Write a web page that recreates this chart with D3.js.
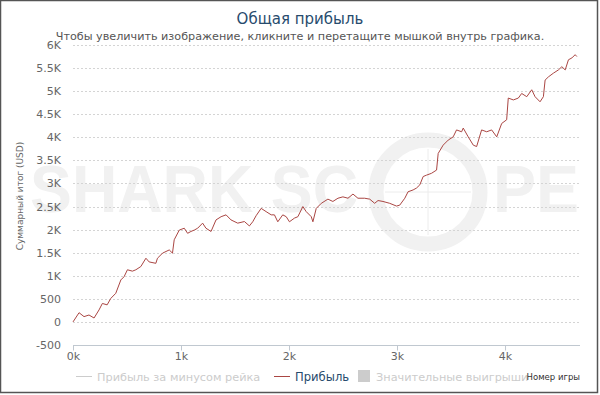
<!DOCTYPE html>
<html>
<head>
<meta charset="utf-8">
<script src="https://cdn.jsdelivr.net/npm/d3@7"></script>
<style>
  body { margin: 0; background: #fff; }
  svg { display: block; font-family: "DejaVu Sans", sans-serif; }
</style>
</head>
<body>
<script>
// game number -> cumulative profit (USD)
const games = [0, 56, 102, 148, 195, 241, 272, 316, 350, 396, 443, 473, 504, 550, 582, 628, 675, 705, 767, 782,
  829, 891, 921, 937, 984, 1030, 1061, 1092, 1123, 1154, 1200, 1231, 1278, 1324, 1371, 1417, 1463, 1525, 1587, 1633,
  1664, 1695, 1742, 1788, 1835, 1865, 1896, 1942, 1974, 2004, 2051, 2082, 2128, 2159, 2206, 2221, 2252, 2299, 2360, 2406,
  2453, 2499, 2546, 2592, 2638, 2700, 2747, 2793, 2824, 2870, 2932, 2995, 3025, 3072, 3102, 3149, 3180, 3211, 3242, 3273,
  3319, 3366, 3381, 3427, 3474, 3520, 3551, 3598, 3613, 3659, 3706, 3737, 3783, 3830, 3876, 3923, 3969, 4015, 4030, 4077,
  4123, 4154, 4201, 4247, 4278, 4324, 4355, 4371, 4402, 4448, 4494, 4526, 4557, 4587, 4619, 4649, 4665]
const profit = [0, 200, 115, 150, 85, 260, 400, 370, 510, 620, 910, 980, 1130, 1100, 1130, 1200, 1380, 1300, 1270, 1380,
  1490, 1560, 1490, 1780, 1990, 2030, 1920, 1960, 1990, 2030, 2140, 2030, 1960, 2210, 2280, 2320, 2210, 2140, 2175, 2080,
  2170, 2300, 2460, 2390, 2320, 2320, 2170, 2320, 2280, 2170, 2250, 2280, 2500, 2390, 2280, 2170, 2460, 2570, 2660, 2610,
  2680, 2710, 2680, 2770, 2680, 2680, 2660, 2570, 2630, 2610, 2570, 2510, 2530, 2680, 2820, 2860, 2900, 2970, 3150, 3180,
  3220, 3290, 3650, 3830, 3940, 4010, 4160, 4120, 4200, 4010, 3830, 3800, 4160, 4120, 4160, 4010, 4300, 4380, 4850, 4810,
  4850, 4950, 4880, 5030, 4880, 4770, 4880, 5240, 5310, 5390, 5460, 5530, 5460, 5680, 5720, 5790, 5750]

const yTicks = [-500, 0, 500, 1000, 1500, 2000, 2500, 3000, 3500, 4000, 4500, 5000, 5500, 6000]
const xTicks = [0, 1000, 2000, 3000, 4000]

const titleText = 'Общая прибыль'
const subtitleText = 'Чтобы увеличить изображение, кликните и перетащите мышкой внутрь графика.'
const yTitle = 'Суммарный итог (USD)'
const xTitle = 'Номер игры'
const legendItems = ['Прибыль за минусом рейка', 'Прибыль', 'Значительные выигрыши']

let width = 600
let height = 395
let plot = { left: 73, right: 580, top: 45, bottom: 345 }

const svg = d3.select('body')
  .append('svg')
  .attr('width', width)
  .attr('height', height)

svg.append('rect')
  .attr('x', 0.5).attr('y', 0.5)
  .attr('width', 597).attr('height', 392)
  .attr('fill', '#fff')
  .attr('stroke', '#555')
  .attr('stroke-width', 1.5)

// watermark
const wm = svg.append('g').attr('fill', '#f1f1f1')
wm.append('text')
  .attr('x', 30).attr('y', 212)
  .attr('font-family', 'Liberation Sans, Arial, sans-serif')
  .attr('font-weight', 'bold')
  .attr('font-size', 66)
  .attr('textLength', 328)
  .attr('lengthAdjust', 'spacingAndGlyphs')
  .text('SHARK SC')
wm.append('text')
  .attr('x', 493).attr('y', 212)
  .attr('font-family', 'Liberation Sans, Arial, sans-serif')
  .attr('font-weight', 'bold')
  .attr('font-size', 66)
  .attr('textLength', 86)
  .attr('lengthAdjust', 'spacingAndGlyphs')
  .text('PE')
wm.append('circle')
  .attr('cx', 428).attr('cy', 192).attr('r', 52)
  .attr('fill', 'none').attr('stroke', '#f1f1f1').attr('stroke-width', 15)
wm.append('line').attr('x1', 385).attr('x2', 471).attr('y1', 192).attr('y2', 192)
  .attr('stroke', '#ececec').attr('stroke-width', 1)
wm.append('line').attr('x1', 428).attr('x2', 428).attr('y1', 149).attr('y2', 235)
  .attr('stroke', '#ececec').attr('stroke-width', 1)

const x = d3.scaleLinear()
  .domain([0, 4694])
  .range([plot.left, plot.right])

const y = d3.scaleLinear()
  .domain([-500, 6000])
  .range([plot.bottom, plot.top])

// grid
svg.append('g')
  .selectAll('line')
  .data(yTicks.filter(d => d > -500))
  .join('line')
  .attr('x1', plot.left)
  .attr('x2', plot.right)
  .attr('y1', d => Math.round(y(d)) + 0.5)
  .attr('y2', d => Math.round(y(d)) + 0.5)
  .attr('stroke', '#d4d4d4')
  .attr('stroke-dasharray', '2,2')

const yFmt = d => Math.abs(d) >= 1000 ? (d / 1000) + 'K' : String(d)

const yAxis = svg.append('g')
  .attr('transform', `translate(${plot.left - 9},0)`)
  .call(d3.axisLeft(y).tickValues(yTicks).tickFormat(yFmt).tickSize(0))
yAxis.select('.domain').remove()
yAxis.selectAll('text')
  .attr('fill', '#666')
  .attr('font-size', 11)
  .attr('font-family', 'DejaVu Sans, sans-serif')

const xAxis = svg.append('g')
  .attr('transform', `translate(0,${plot.bottom + 0.5})`)
  .call(d3.axisBottom(x).tickValues(xTicks).tickFormat(d => (d / 1000) + 'k').tickSize(5).tickPadding(2))
xAxis.select('.domain').attr('stroke', '#c0c8d0').attr('d', `M${plot.left},0H${plot.right}`)
xAxis.selectAll('.tick line').attr('stroke', '#c0c8d0')
xAxis.selectAll('text')
  .attr('fill', '#666')
  .attr('font-size', 11)
  .attr('font-family', 'DejaVu Sans, sans-serif')

// profit line
const pts = games.map((g, i) => [g, profit[i]])
svg.append('path')
  .datum(pts)
  .attr('fill', 'none')
  .attr('stroke', '#aa4643')
  .attr('stroke-width', 1)
  .attr('stroke-linejoin', 'round')
  .attr('d', d3.line().x(d => x(d[0])).y(d => y(d[1])))

// titles
svg.append('text')
  .attr('x', 300).attr('y', 24)
  .attr('text-anchor', 'middle')
  .attr('font-size', 15)
  .attr('fill', '#274b6d')
  .text(titleText)

svg.append('text')
  .attr('x', 300).attr('y', 40)
  .attr('text-anchor', 'middle')
  .attr('font-size', 11.2)
  .attr('fill', '#555')
  .text(subtitleText)

svg.append('text')
  .attr('transform', 'translate(23,196) rotate(-90)')
  .attr('text-anchor', 'middle')
  .attr('font-size', 9)
  .attr('fill', '#666')
  .text(yTitle)

// legend
const lg = svg.append('g').attr('font-size', 11.3)
lg.append('line').attr('x1', 76).attr('x2', 92).attr('y1', 376.5).attr('y2', 376.5)
  .attr('stroke', '#ccc')
lg.append('text').attr('x', 97).attr('y', 381).attr('fill', '#ccc').text(legendItems[0])
lg.append('line').attr('x1', 274).attr('x2', 290).attr('y1', 376.5).attr('y2', 376.5)
  .attr('stroke', '#aa4643')
lg.append('text').attr('x', 295).attr('y', 381).attr('fill', '#274b6d')
  .attr('font-size', 11.6)
  .text(legendItems[1])
lg.append('rect').attr('x', 358).attr('y', 370).attr('width', 12).attr('height', 12)
  .attr('fill', '#ccc')
lg.append('text').attr('x', 376).attr('y', 381).attr('fill', '#ccc').text(legendItems[2])

svg.append('text')
  .attr('x', 580).attr('y', 380)
  .attr('text-anchor', 'end')
  .attr('font-size', 8.5)
  .attr('fill', '#333')
  .text(xTitle)
</script>
</body>
</html>
